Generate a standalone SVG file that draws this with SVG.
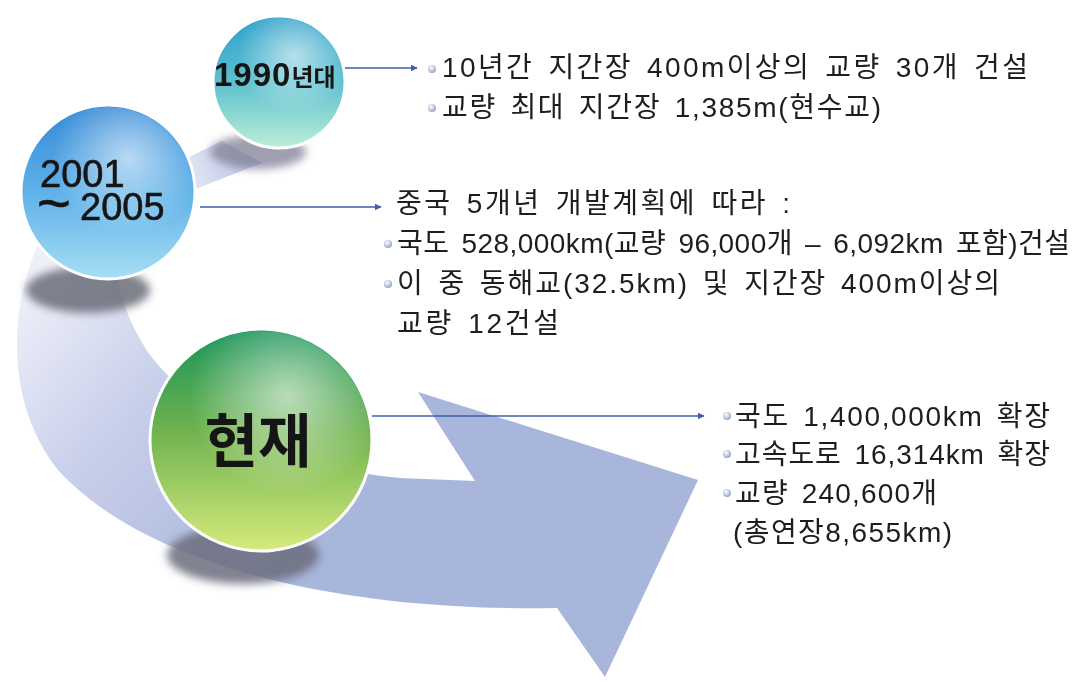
<svg xmlns="http://www.w3.org/2000/svg" width="1082" height="684" viewBox="0 0 1082 684">
<style>
.txt{font-family:"Liberation Sans","Noto Sans CJK KR",sans-serif;font-size:28px;word-spacing:4px;fill:#1e1e1e}
.conn{stroke:#3f5fa8;stroke-width:1.6;fill:none}
.sph{stroke:#ffffff;stroke-width:3}
.lbl{font-family:"Liberation Sans","Noto Sans CJK KR",sans-serif;fill:#151515}
</style>
<defs>
<linearGradient id="gArrow" gradientUnits="userSpaceOnUse" x1="20" y1="290" x2="300" y2="540">
<stop offset="0" stop-color="#eef0f9"/>
<stop offset="0.45" stop-color="#c7cee9"/>
<stop offset="1" stop-color="#a8b6dc"/>
</linearGradient>
<linearGradient id="gBand" gradientUnits="userSpaceOnUse" x1="185" y1="175" x2="262" y2="150">
<stop offset="0" stop-color="#e3e6f5"/>
<stop offset="1" stop-color="#b7c0e2"/>
</linearGradient>
<linearGradient id="g1990" x1="0" y1="0" x2="0" y2="1">
<stop offset="0" stop-color="#2f9fcb"/>
<stop offset="0.5" stop-color="#5cc0cf"/>
<stop offset="1" stop-color="#bdeed8"/>
</linearGradient>
<linearGradient id="g2001" x1="0" y1="0" x2="0" y2="1">
<stop offset="0" stop-color="#3488d6"/>
<stop offset="0.5" stop-color="#5fb1e8"/>
<stop offset="1" stop-color="#a6def4"/>
</linearGradient>
<linearGradient id="gNow" x1="0" y1="0" x2="0" y2="1">
<stop offset="0" stop-color="#17935a"/>
<stop offset="0.45" stop-color="#6db24e"/>
<stop offset="1" stop-color="#d6ea7c"/>
</linearGradient>
<radialGradient id="gHi" cx="0.62" cy="0.3" r="0.45">
<stop offset="0" stop-color="#ffffff" stop-opacity="0.6"/>
<stop offset="1" stop-color="#ffffff" stop-opacity="0"/>
</radialGradient>
<radialGradient id="gBul" cx="0.4" cy="0.35" r="0.7">
<stop offset="0" stop-color="#ffffff"/>
<stop offset="1" stop-color="#8a9fc4"/>
</radialGradient>
<filter id="blur" x="-30%" y="-50%" width="160%" height="200%">
<feGaussianBlur stdDeviation="4"/>
</filter>
<marker id="ah" viewBox="0 0 10 10" refX="9" refY="5" markerWidth="7" markerHeight="7" markerUnits="userSpaceOnUse" orient="auto">
<path d="M0,0 L10,5 L0,10 Z" fill="#3f5fa8"/>
</marker>
</defs>
<rect width="1082" height="684" fill="#ffffff"/>

<g id="flow-arrow">
<path d="M 45,230 C 8,300 3,400 58,470 C 150,570 350,612 557,608 L 605,677 L 698,480 L 418,392 L 475,481 L 400,478 C 300,470 200,420 150,355 C 130,325 120,300 115,260 Z" fill="url(#gArrow)"/>
<polygon points="183,160 222,141 262,163 193,190" fill="url(#gBand)"/>
</g>

<g id="shadows" filter="url(#blur)">
<ellipse cx="258" cy="152" rx="48" ry="17" fill="#7d7f95" opacity="0.75"/>
<ellipse cx="88" cy="290" rx="62" ry="23" fill="#6b6d78" opacity="0.85"/>
<ellipse cx="243" cy="555" rx="76" ry="29" fill="#6b6d7c" opacity="0.85"/>
</g>

<g id="node-1990">
<circle class="sph" cx="279" cy="82" r="66" fill="url(#g1990)"/>
<circle cx="279" cy="82" r="64" fill="url(#gHi)"/>
<text class="lbl" x="214" y="86" font-weight="bold"><tspan font-size="33" letter-spacing="1">1990</tspan><tspan font-size="24">년대</tspan></text>
</g>

<g id="node-2001">
<circle class="sph" cx="108" cy="192" r="87" fill="url(#g2001)"/>
<circle cx="108" cy="192" r="85" fill="url(#gHi)"/>
<text class="lbl" font-size="38" stroke="#151515" stroke-width="0.6"><tspan x="40" y="187">2001</tspan><tspan x="37" y="223" font-size="58">~</tspan><tspan x="80" y="220">2005</tspan></text>
</g>

<g id="node-now">
<circle class="sph" cx="261" cy="440" r="111" fill="url(#gNow)"/>
<circle cx="261" cy="440" r="109" fill="url(#gHi)"/>
<text class="lbl" x="258" y="462" font-size="58" font-weight="bold" text-anchor="middle">현재</text>
</g>

<g id="connectors">
<line class="conn" x1="345" y1="68" x2="417" y2="68" marker-end="url(#ah)"/>
<line class="conn" x1="200" y1="207" x2="381" y2="207" marker-end="url(#ah)"/>
<line class="conn" x1="372" y1="416" x2="704" y2="416" marker-end="url(#ah)"/>
</g>

<g id="desc-1990">
<circle cx="432" cy="69" r="4" fill="url(#gBul)"/>
<text class="txt" x="442" y="77" textLength="586" lengthAdjust="spacing">10년간 지간장 400m이상의 교량 30개 건설</text>
<circle cx="432" cy="108" r="4" fill="url(#gBul)"/>
<text class="txt" x="442" y="117" textLength="439" lengthAdjust="spacing">교량 최대 지간장 1,385m(현수교)</text>
</g>

<g id="desc-2001">
<text class="txt" x="396" y="213" textLength="394" lengthAdjust="spacing">중국 5개년 개발계획에 따라 :</text>
<circle cx="388" cy="244" r="4" fill="url(#gBul)"/>
<text class="txt" x="397" y="253" textLength="673" lengthAdjust="spacing">국도 528,000km(교량 96,000개 – 6,092km 포함)건설</text>
<circle cx="388" cy="284" r="4" fill="url(#gBul)"/>
<text class="txt" x="397" y="293" textLength="603" lengthAdjust="spacing">이 중 동해교(32.5km) 및 지간장 400m이상의</text>
<text class="txt" x="397" y="333" textLength="162" lengthAdjust="spacing">교량 12건설</text>
</g>

<g id="desc-now">
<circle cx="727" cy="416" r="4" fill="url(#gBul)"/>
<text class="txt" x="735" y="426" textLength="315" lengthAdjust="spacing">국도 1,400,000km 확장</text>
<circle cx="727" cy="454" r="4" fill="url(#gBul)"/>
<text class="txt" x="735" y="464" textLength="315" lengthAdjust="spacing">고속도로 16,314km 확장</text>
<circle cx="727" cy="493" r="4" fill="url(#gBul)"/>
<text class="txt" x="735" y="503" textLength="202" lengthAdjust="spacing">교량 240,600개</text>
<text class="txt" x="733" y="542" textLength="219" lengthAdjust="spacing">(총연장8,655km)</text>
</g>
</svg>
